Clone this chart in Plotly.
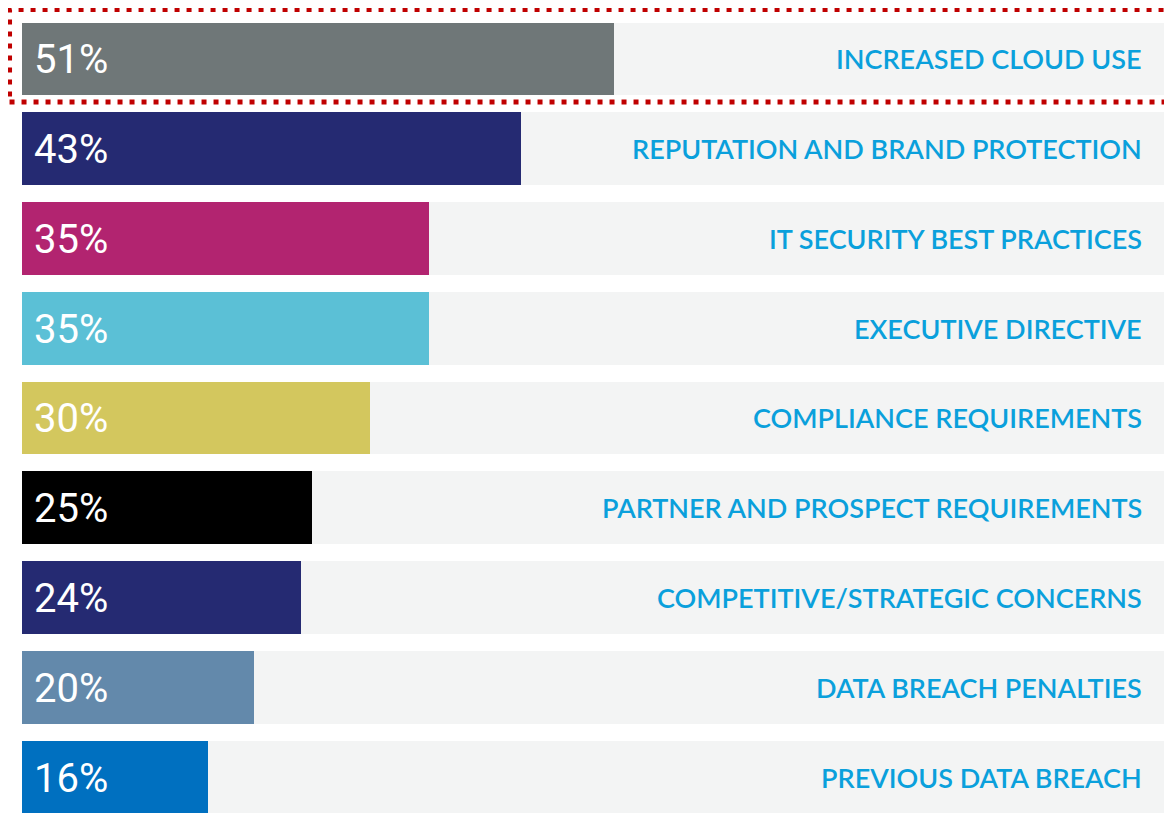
import plotly.graph_objects as go

# values
categories = [
    "INCREASED CLOUD USE",
    "REPUTATION AND BRAND PROTECTION",
    "IT SECURITY BEST PRACTICES",
    "EXECUTIVE DIRECTIVE",
    "COMPLIANCE REQUIREMENTS",
    "PARTNER AND PROSPECT REQUIREMENTS",
    "COMPETITIVE/STRATEGIC CONCERNS",
    "DATA BREACH PENALTIES",
    "PREVIOUS DATA BREACH",
]
values = [51, 43, 35, 35, 30, 25, 24, 20, 16]
bar_colors = ["#6f7778", "#252a72", "#b22470", "#5bc0d6", "#d3c75e",
              "#000000", "#252a72", "#6389ab", "#0070c0"]
track_max = 98.5

rows = list(range(len(categories)))

fig = go.Figure()

# light grey track behind each bar
fig.add_trace(go.Bar(
    y=rows, x=[track_max] * len(rows), orientation="h",
    marker=dict(color="#f3f4f4", line=dict(width=0)),
    width=0.81, hoverinfo="skip", showlegend=False,
))

fig.add_trace(go.Bar(
    y=rows, x=values, orientation="h",
    marker=dict(color=bar_colors, line=dict(width=0)),
    width=0.81, showlegend=False,
))

for r, v, cat in zip(rows, values, categories):
    fig.add_annotation(x=0, y=r, text=f"{v}%", showarrow=False,
                       xanchor="left", xshift=10, yshift=-1,
                       font=dict(family="Roboto", size=40, color="white"))
    fig.add_annotation(x=track_max, y=r, text=cat, showarrow=False,
                       xanchor="right", xshift=-22,
                       font=dict(family="Lato", size=27, color="#0aa0dc",
                                 weight=600))

# dotted highlight box around the first row
fig.add_shape(type="rect", xref="paper", yref="paper",
              x0=-0.0109, x1=1.03, y0=0.8899, y1=1.0056,
              line=dict(color="#c00000", width=5, dash="5px,7px"),
              fillcolor="rgba(0,0,0,0)", layer="above")

# page body has an 8px margin, so the figure is kept inside the window
fig.update_layout(
    width=1164, height=805,
    barmode="overlay", bargap=0,
    margin=dict(l=14, r=6, t=6, b=0),
    paper_bgcolor="white", plot_bgcolor="white",
    xaxis=dict(range=[0, track_max], visible=False, fixedrange=True),
    yaxis=dict(range=[8.4, -0.5], visible=False, fixedrange=True),
)

fig.write_html("out.html")
